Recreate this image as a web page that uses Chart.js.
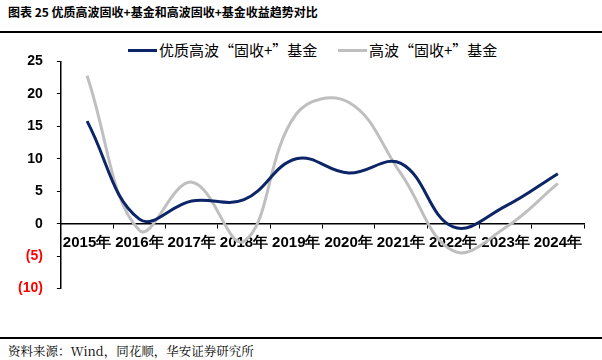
<!DOCTYPE html>
<html>
<head>
<meta charset="utf-8">
<script src="https://cdn.jsdelivr.net/npm/chart.js@4"></script>
<style>
  body { margin: 0; width: 602px; height: 360px; background: #fff; position: relative; overflow: hidden; }
  #title { position: absolute; left: 8px; top: 3px; font: bold 12px "Noto Sans CJK SC", sans-serif; color: #000; line-height: 18px; }
  #topRule { position: absolute; left: 0; top: 31px; width: 602px; height: 2px; background: #000; }
  #wrap { position: absolute; left: 0; top: 39px; width: 602px; height: 272px; }
  .lg { position: absolute; top: 40px; height: 20px; font: 15px "Noto Sans CJK SC", sans-serif; color: #000; line-height: 20px; white-space: nowrap; }
  .lg i { position: absolute; top: 8.5px; width: 29px; height: 3px; }
  #botRule { position: absolute; left: 0; top: 337px; width: 602px; height: 1.5px; background: #000; }
  #source { position: absolute; left: 8px; top: 342px; font: 12.5px "Noto Serif CJK SC", "Noto Sans CJK SC", serif; color: #000; line-height: 18px; }
</style>
</head>
<body>
<div id="title">图表 25 优质高波固收+基金和高波固收+基金收益趋势对比</div>
<div id="topRule"></div>
<div id="legend"></div>
<div id="wrap"><canvas id="trendChart"></canvas></div>
<div id="botRule"></div>
<div id="source">资料来源：Wind，同花顺，华安证券研究所</div>
<script>
// categories and series
const years = ['2015年', '2016年', '2017年', '2018年', '2019年', '2020年', '2021年', '2022年', '2023年', '2024年'];
const qualityHighVol = [15.8, 0.7, 3.5, 3.7, 10.0, 7.8, 9.3, -0.5, 2.7, 7.7];
const highVol = [22.8, -1.0, 6.4, -2.7, 16.9, 18.7, 7.7, -4.2, -0.6, 6.2];
const seriesNames = ['优质高波“固收+”基金', '高波“固收+”基金'];
const seriesColors = ['#0C2468', '#BFBFBF'];

const ctx = document.getElementById('trendChart').getContext('2d');
const trendChart = new Chart(ctx, {
    type: 'line',
    data: {
        labels: years,
        datasets: [
            {
                label: seriesNames[0],
                data: qualityHighVol,
                borderColor: seriesColors[0],
                borderWidth: 3,
                pointRadius: 0,
                tension: 0.4
            },
            {
                label: seriesNames[1],
                data: highVol,
                borderColor: seriesColors[1],
                borderWidth: 3,
                pointRadius: 0,
                tension: 0.4
            }
        ]
    },
    options: {
        responsive: true,
        maintainAspectRatio: false,
        animation: false,
        layout: { padding: { left: 4, right: 18, top: 3, bottom: 3 } },
        plugins: {
            tooltip: { enabled: false },
            legend: { display: false }
        },
        scales: {
            x: {
                position: { y: 0 },
                offset: true,
                border: { color: '#000', width: 1.5 },
                grid: { display: true, drawOnChartArea: false, drawTicks: true, tickLength: 4, offset: true, color: '#000' },
                ticks: {
                    color: '#000',
                    autoSkip: false,
                    maxRotation: 0,
                    padding: 6,
                    font: { family: 'Liberation Sans', weight: 'bold', size: 15 }
                }
            },
            y: {
                min: -10,
                max: 25,
                border: { color: '#000', width: 1.5 },
                grid: { display: true, drawOnChartArea: false, drawTicks: true, tickLength: 4, color: '#000' },
                ticks: {
                    stepSize: 5,
                    padding: 14,
                    font: { family: 'Liberation Sans', weight: 'bold', size: 14 },
                    color: c => (c.tick && c.tick.value < 0 ? '#FF0000' : '#000'),
                    callback: v => (v < 0 ? '(' + Math.abs(v) + ')' : v)
                }
            }
        }
    }
});

// legend built from the datasets
const legendLeft = [128, 338];
document.getElementById('legend').innerHTML = trendChart.data.datasets.map((ds, i) => `
    <div class="lg" style="left:${legendLeft[i]}px">
        <i style="left:0;background:${ds.borderColor}"></i>
        <span style="margin-left:31px">${ds.label}</span>
    </div>`).join('');
</script>
</body>
</html>
